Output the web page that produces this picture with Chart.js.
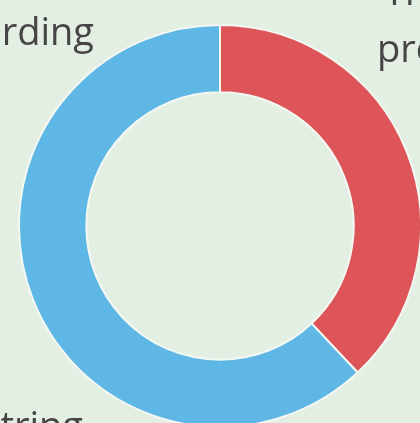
<!DOCTYPE html>
<html lang="en">
<head>
  <meta charset="UTF-8" />
  <title>Doughnut</title>
  <script src="https://cdn.jsdelivr.net/npm/chart.js"></script>
  <style>
    html, body { margin: 0; padding: 0; background: #e4efe3; overflow: hidden; width: 420px; height: 423px; }
    #wrap { position: absolute; left: -100px; top: -100px; width: 640px; height: 650px; }
  </style>
</head>
<body>
  <div id="wrap"><canvas id="grafico"></canvas></div>

  <script>
    // slice data
    const categorias = ['The present', 'Onboarding'];
    const valores = [38, 62];
    // free text labels around the ring
    const textoIzq = 'Onboarding';
    const textoDer = ['The', 'present'];
    const textoAbajo = 'Substring';

    const etiquetas = {
      id: 'etiquetas',
      afterDraw(chart) {
        const arc = chart.getDatasetMeta(0).data[0];
        const cx = arc.x, cy = arc.y;
        const c = chart.ctx;
        c.save();
        c.fillStyle = '#454545';
        c.font = '38px "Open Sans"';
        c.textBaseline = 'alphabetic';
        c.textAlign = 'right';
        c.fillText(textoIzq, cx - 126, cy - 181);
        c.fillText(textoAbajo, cx - 137, cy + 213);
        c.textAlign = 'left';
        c.fillText(textoDer[0], cx + 164, cy - 221);
        c.fillText(textoDer[1], cx + 157, cy - 164);
        c.restore();
      }
    };

    new Chart(document.getElementById('grafico'), {
      type: 'doughnut',
      data: {
        labels: categorias,
        datasets: [{
          data: valores,
          backgroundColor: ['#dd5558', '#5fb7e6'],
          borderColor: '#f4f8f3',
          borderWidth: 2
        }]
      },
      options: {
        responsive: true,
        maintainAspectRatio: false,
        animation: false,
        cutout: '66.5%',
        layout: { padding: { left: 118, right: 118, top: 124, bottom: 122 } },
        plugins: { legend: { display: false }, tooltip: { enabled: false } }
      },
      plugins: [etiquetas]
    });
  </script>
</body>
</html>
